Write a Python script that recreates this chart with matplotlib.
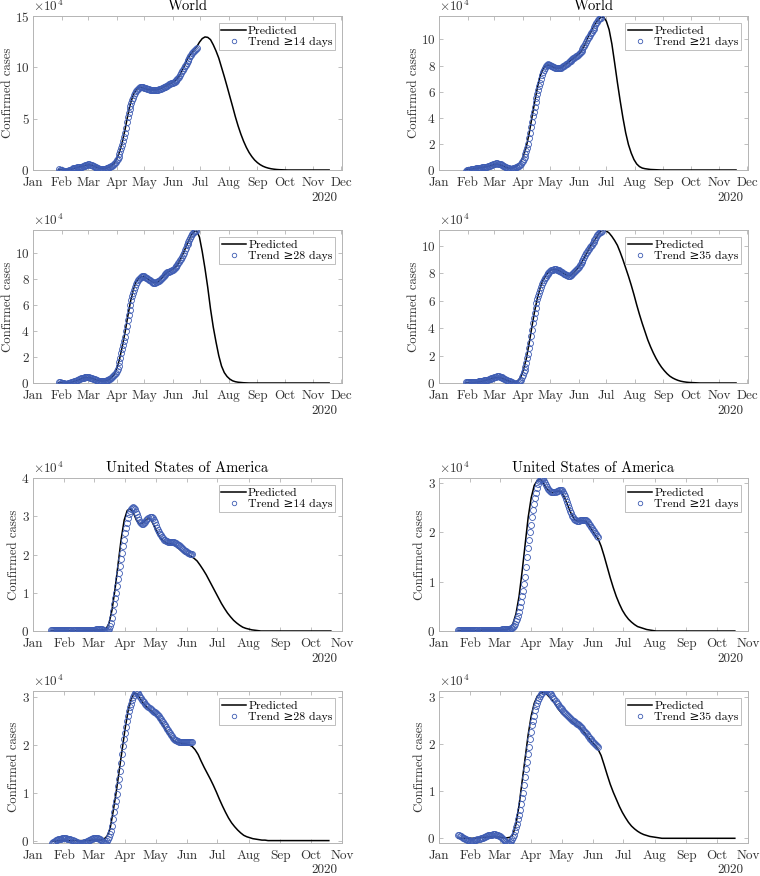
import pandas as pd
import matplotlib
matplotlib.use("Agg")
import matplotlib.pyplot as plt
import matplotlib.dates as mdates

plt.rcParams["font.family"] = ["cmr10", "DejaVu Serif"]
plt.rcParams["mathtext.fontset"] = "cm"
plt.rcParams["axes.formatter.use_mathtext"] = True
plt.rcParams["font.size"] = 9

BLUE = "#3f5db3"
BOX = "#b4b4b4"
TXT = "#333333"

# ---- World, trend >= 14 days (x 10^4 cases), daily from 29 Jan; prediction every 3 days
w14_trend = [
    0.07, 0.04, 0.01, -0.02, -0.05, -0.07, -0.09, -0.10, -0.10, -0.08,
    -0.05, -0.02, 0.00, 0.04, 0.08, 0.12, 0.16, 0.18, 0.21, 0.23,
    0.25, 0.27, 0.28, 0.30, 0.31, 0.33, 0.36, 0.39, 0.42, 0.45,
    0.49, 0.52, 0.55, 0.54, 0.52, 0.50, 0.46, 0.42, 0.37, 0.33,
    0.28, 0.24, 0.20, 0.16, 0.13, 0.10, 0.09, 0.09, 0.09, 0.10,
    0.12, 0.14, 0.16, 0.19, 0.23, 0.26, 0.30, 0.36, 0.42, 0.49,
    0.58, 0.68, 0.80, 0.95, 1.12, 1.30, 1.55, 1.82, 2.10, 2.45,
    2.80, 3.20, 3.60, 4.10, 4.65, 5.20, 5.55, 5.90, 6.20, 6.50,
    6.78, 7.05, 7.30, 7.50, 7.66, 7.80, 7.92, 8.02, 8.08, 8.10,
    8.10, 8.07, 8.04, 8.01, 7.98, 7.95, 7.92, 7.89, 7.86, 7.84,
    7.83, 7.82, 7.81, 7.80, 7.80, 7.80, 7.80, 7.81, 7.82, 7.85,
    7.88, 7.92, 7.96, 8.00, 8.04, 8.08, 8.13, 8.18, 8.23, 8.28,
    8.33, 8.38, 8.43, 8.47, 8.52, 8.57, 8.62, 8.68, 8.76, 8.86,
    8.96, 9.10, 9.26, 9.43, 9.60, 9.77, 9.94, 10.10, 10.27, 10.44,
    10.60, 10.76, 10.92, 11.07, 11.22, 11.36, 11.49, 11.61, 11.73, 11.82,
    11.90,
]
w14_pred = [
    0.05, 0.02, 0.00, 0.02, 0.06, 0.12, 0.20, 0.27, 0.33, 0.40,
    0.47, 0.50, 0.45, 0.35, 0.24, 0.16, 0.13, 0.16, 0.25, 0.40,
    0.65, 1.10, 1.75, 2.70, 3.90, 5.30, 6.50, 7.30, 7.80, 8.05,
    8.05, 7.95, 7.87, 7.82, 7.80, 7.80, 7.85, 7.95, 8.07, 8.20,
    8.35, 8.50, 8.68, 8.92, 9.30, 9.85, 10.45, 11.00, 11.35, 11.70,
    12.00, 12.45, 12.80, 12.96, 12.92, 12.70, 12.20, 11.60, 10.90, 10.00,
    9.10, 8.15, 7.17, 6.20, 5.20, 4.30, 3.50, 2.80, 2.20, 1.70,
    1.30, 0.97, 0.72, 0.52, 0.37, 0.26, 0.18, 0.12, 0.08, 0.05,
    0.03, 0.02, 0.01, 0, 0, 0, 0, 0, 0, 0,
    0, 0, 0, 0, 0, 0, 0, 0, 0,
]

# ---- World, trend >= 21 days, daily from 30 Jan
w21_trend = [
    -0.05, -0.03, -0.02, 0.00, 0.02, 0.03, 0.05, 0.06, 0.08, 0.09,
    0.10, 0.12, 0.13, 0.14, 0.15, 0.16, 0.17, 0.19, 0.20, 0.21,
    0.22, 0.23, 0.25, 0.26, 0.28, 0.30, 0.33, 0.35, 0.38, 0.41,
    0.43, 0.46, 0.48, 0.50, 0.50, 0.49, 0.48, 0.46, 0.43, 0.40,
    0.36, 0.32, 0.28, 0.25, 0.21, 0.17, 0.13, 0.12, 0.11, 0.10,
    0.10, 0.11, 0.12, 0.15, 0.18, 0.21, 0.25, 0.29, 0.33, 0.38,
    0.47, 0.58, 0.70, 0.85, 1.00, 1.22, 1.45, 1.72, 2.00, 2.42,
    2.85, 3.30, 3.70, 4.10, 4.48, 4.85, 5.18, 5.50, 5.80, 6.10,
    6.40, 6.70, 6.98, 7.25, 7.50, 7.67, 7.82, 7.95, 8.03, 8.08,
    8.10, 8.08, 8.05, 8.00, 7.95, 7.90, 7.87, 7.84, 7.82, 7.80,
    7.79, 7.78, 7.78, 7.80, 7.84, 7.89, 7.95, 8.00, 8.05, 8.11,
    8.16, 8.22, 8.28, 8.33, 8.39, 8.44, 8.50, 8.55, 8.60, 8.65,
    8.70, 8.75, 8.81, 8.87, 8.93, 9.03, 9.14, 9.25, 9.39, 9.53,
    9.68, 9.82, 9.95, 10.09, 10.22, 10.35, 10.47, 10.60, 10.72, 10.84,
    10.98, 11.11, 11.25, 11.37, 11.48, 11.55, 11.62, 11.68,
]
w21_pred = [
    0.00, 0.03, 0.07, 0.10, 0.13, 0.16, 0.20, 0.23, 0.27, 0.33,
    0.40, 0.45, 0.43, 0.35, 0.25, 0.17, 0.14, 0.16, 0.25, 0.40,
    0.65, 1.10, 1.80, 2.80, 4.00, 5.20, 6.30, 7.20, 7.75, 8.00,
    8.05, 7.95, 7.85, 7.80, 7.80, 7.90, 8.05, 8.20, 8.38, 8.55,
    8.72, 8.90, 9.15, 9.55, 10.00, 10.45, 10.85, 11.20, 11.50, 11.70,
    11.72, 11.40, 10.75, 9.65, 8.20, 6.70, 5.30, 4.00, 2.85, 1.95,
    1.30, 0.80, 0.46, 0.26, 0.15, 0.10, 0.07, 0.04, 0.03, 0.02,
    0.01, 0, 0, 0, 0, 0, 0, 0, 0, 0,
    0, 0, 0, 0, 0, 0, 0, 0, 0, 0,
    0, 0, 0, 0, 0, 0, 0, 0, 0,
]

# ---- World, trend >= 28 days, daily from 29 Jan
w28_trend = [
    0.05, 0.04, 0.02, 0.01, 0.00, -0.01, -0.03, -0.04, -0.05, -0.04,
    -0.02, 0.00, 0.02, 0.04, 0.06, 0.09, 0.11, 0.13, 0.16, 0.19,
    0.22, 0.25, 0.28, 0.32, 0.35, 0.38, 0.40, 0.42, 0.44, 0.45,
    0.46, 0.46, 0.45, 0.43, 0.41, 0.38, 0.36, 0.33, 0.30, 0.28,
    0.25, 0.22, 0.20, 0.17, 0.15, 0.13, 0.12, 0.12, 0.12, 0.13,
    0.14, 0.16, 0.18, 0.21, 0.24, 0.27, 0.30, 0.36, 0.43, 0.50,
    0.59, 0.69, 0.80, 0.95, 1.10, 1.27, 1.60, 1.95, 2.30, 2.62,
    2.94, 3.25, 3.56, 3.98, 4.40, 4.83, 5.22, 5.60, 6.00, 6.36,
    6.65, 6.92, 7.18, 7.40, 7.58, 7.75, 7.90, 8.02, 8.10, 8.14,
    8.17, 8.19, 8.20, 8.18, 8.14, 8.10, 8.05, 8.00, 7.94, 7.88,
    7.83, 7.78, 7.74, 7.70, 7.68, 7.69, 7.72, 7.75, 7.80, 7.85,
    7.90, 7.98, 8.06, 8.15, 8.23, 8.31, 8.38, 8.45, 8.49, 8.53,
    8.56, 8.60, 8.63, 8.67, 8.70, 8.77, 8.84, 8.92, 9.00, 9.10,
    9.20, 9.30, 9.41, 9.55, 9.70, 9.85, 10.00, 10.18, 10.37, 10.56,
    10.71, 10.86, 11.02, 11.17, 11.32, 11.42, 11.51, 11.59, 11.65, 11.70,
]
w28_pred = [
    0.03, 0.01, 0.00, 0.01, 0.04, 0.09, 0.16, 0.24, 0.32, 0.39,
    0.43, 0.42, 0.36, 0.28, 0.21, 0.16, 0.14, 0.17, 0.25, 0.40,
    0.65, 1.10, 1.80, 2.80, 3.85, 5.10, 6.25, 7.15, 7.75, 8.05,
    8.18, 8.15, 8.03, 7.88, 7.75, 7.70, 7.78, 7.98, 8.22, 8.45,
    8.58, 8.68, 8.85, 9.08, 9.45, 9.90, 10.40, 10.90, 11.35, 11.62,
    11.70, 11.20, 10.10, 8.80, 7.35, 5.70, 4.30, 3.15, 2.10, 1.30,
    0.80, 0.50, 0.30, 0.17, 0.10, 0.06, 0.04, 0.02, 0.01, 0,
    0, 0, 0, 0, 0, 0, 0, 0, 0, 0,
    0, 0, 0, 0, 0, 0, 0, 0, 0, 0,
    0, 0, 0, 0, 0, 0, 0, 0, 0,
]

# ---- World, trend >= 35 days, daily from 30 Jan
w35_trend = [
    0.07, 0.07, 0.06, 0.06, 0.05, 0.05, 0.05, 0.05, 0.05, 0.06,
    0.07, 0.08, 0.09, 0.10, 0.11, 0.12, 0.13, 0.15, 0.16, 0.17,
    0.19, 0.20, 0.22, 0.24, 0.25, 0.27, 0.29, 0.32, 0.34, 0.37,
    0.39, 0.42, 0.44, 0.46, 0.48, 0.49, 0.49, 0.47, 0.45, 0.42,
    0.39, 0.36, 0.32, 0.29, 0.25, 0.22, 0.18, 0.15, 0.11, 0.08,
    0.05, 0.02, 0.00, -0.02, -0.04, -0.05, -0.04, 0.00, 0.05, 0.12,
    0.25, 0.42, 0.60, 0.77, 0.95, 1.20, 1.46, 1.80, 2.15, 2.52,
    2.90, 3.40, 3.88, 4.37, 4.73, 5.10, 5.47, 5.83, 6.10, 6.35,
    6.58, 6.80, 7.00, 7.20, 7.35, 7.50, 7.65, 7.77, 7.88, 7.98,
    8.06, 8.13, 8.18, 8.22, 8.25, 8.27, 8.29, 8.30, 8.29, 8.27,
    8.25, 8.22, 8.19, 8.16, 8.13, 8.08, 8.03, 7.98, 7.93, 7.88,
    7.85, 7.82, 7.82, 7.83, 7.85, 7.89, 7.94, 8.00, 8.07, 8.15,
    8.22, 8.30, 8.40, 8.50, 8.60, 8.71, 8.82, 8.93, 9.05, 9.19,
    9.33, 9.47, 9.58, 9.69, 9.80, 9.90, 10.00, 10.10, 10.20, 10.30,
    10.42, 10.53, 10.65, 10.78, 10.90, 10.95, 11.00, 11.05, 11.10,
]
w35_pred = [
    0.02, 0.02, 0.03, 0.04, 0.06, 0.09, 0.13, 0.18, 0.24, 0.30,
    0.36, 0.40, 0.40, 0.35, 0.27, 0.19, 0.12, 0.08, 0.08, 0.18,
    0.45, 1.00, 1.80, 2.90, 4.10, 5.25, 6.20, 6.95, 7.50, 7.85,
    8.10, 8.25, 8.30, 8.28, 8.20, 8.08, 7.95, 7.85, 7.85, 7.98,
    8.20, 8.48, 8.80, 9.17, 9.55, 9.90, 10.22, 10.52, 10.85, 11.08,
    11.17, 11.10, 10.95, 10.70, 10.40, 10.05, 9.55, 9.00, 8.40, 7.80,
    7.15, 6.45, 5.70, 5.00, 4.35, 3.75, 3.15, 2.65, 2.20, 1.80,
    1.45, 1.15, 0.90, 0.68, 0.50, 0.37, 0.27, 0.19, 0.13, 0.09,
    0.06, 0.04, 0.03, 0.02, 0.01, 0, 0, 0, 0, 0,
    0, 0, 0, 0, 0, 0, 0, 0, 0,
]

# ---- USA, trend >= 14 days, daily from 19 Jan
u14_trend = [
    0.02, 0.02, 0.02, 0.02, 0.02, 0.02, 0.02, 0.02, 0.02, 0.02,
    0.02, 0.02, 0.02, 0.02, 0.02, 0.02, 0.02, 0.02, 0.02, 0.02,
    0.02, 0.02, 0.02, 0.02, 0.02, 0.02, 0.02, 0.02, 0.02, 0.02,
    0.02, 0.02, 0.02, 0.03, 0.03, 0.03, 0.03, 0.03, 0.03, 0.03,
    0.03, 0.03, 0.03, 0.03, 0.04, 0.04, 0.04, 0.05, 0.05, 0.05,
    0.04, 0.03, 0.02, 0.01, 0.00, 0.01, 0.03, 0.06, 0.12, 0.22,
    0.35, 0.52, 0.70, 0.85, 1.00, 1.18, 1.35, 1.52, 1.70, 1.88,
    2.05, 2.22, 2.38, 2.55, 2.70, 2.83, 2.95, 3.05, 3.13, 3.18,
    3.22, 3.23, 3.22, 3.18, 3.12, 3.05, 2.98, 2.91, 2.85, 2.82,
    2.80, 2.80, 2.82, 2.86, 2.90, 2.93, 2.96, 2.97, 2.98, 2.97,
    2.95, 2.91, 2.85, 2.78, 2.70, 2.64, 2.58, 2.54, 2.50, 2.46,
    2.42, 2.39, 2.37, 2.35, 2.34, 2.33, 2.33, 2.33, 2.33, 2.33,
    2.33, 2.32, 2.31, 2.29, 2.28, 2.26, 2.24, 2.21, 2.19, 2.16,
    2.14, 2.12, 2.10, 2.08, 2.06, 2.04, 2.03, 2.02, 2.02, 2.02,
]
u14_pred = [
    0.01, 0.01, 0.01, 0.01, 0.01, 0.01, 0.01, 0.01, 0.01, 0.01,
    0.01, 0.02, 0.02, 0.02, 0.02, 0.03, 0.03, 0.03, 0.05, 0.20,
    0.55, 1.10, 1.75, 2.40, 2.90, 3.15, 3.20, 3.10, 2.90, 2.80,
    2.82, 2.90, 2.95, 2.88, 2.72, 2.55, 2.42, 2.35, 2.30, 2.28,
    2.27, 2.22, 2.15, 2.08, 2.02, 1.98, 1.95, 1.90, 1.83, 1.72,
    1.60, 1.47, 1.32, 1.17, 1.02, 0.87, 0.72, 0.59, 0.47, 0.37,
    0.28, 0.21, 0.15, 0.10, 0.07, 0.05, 0.03, 0.02, 0.01, 0,
    0, 0, 0, 0, 0, 0, 0, 0, 0, 0,
    0, 0, 0, 0, 0, 0, 0, 0, 0, 0,
    0, 0, 0,
]

# ---- USA, trend >= 21 days, daily from 20 Jan
u21_trend = [
    0.02, 0.02, 0.02, 0.02, 0.02, 0.02, 0.02, 0.02, 0.02, 0.02,
    0.02, 0.02, 0.02, 0.02, 0.02, 0.02, 0.02, 0.02, 0.02, 0.02,
    0.02, 0.02, 0.02, 0.03, 0.03, 0.03, 0.03, 0.03, 0.03, 0.03,
    0.03, 0.03, 0.03, 0.03, 0.03, 0.03, 0.03, 0.03, 0.03, 0.03,
    0.03, 0.03, 0.03, 0.04, 0.04, 0.04, 0.04, 0.04, 0.04, 0.05,
    0.05, 0.05, 0.06, 0.07, 0.08, 0.11, 0.15, 0.20, 0.25, 0.31,
    0.38, 0.48, 0.58, 0.70, 0.82, 0.96, 1.10, 1.30, 1.50, 1.68,
    1.85, 2.00, 2.15, 2.30, 2.45, 2.58, 2.70, 2.80, 2.90, 2.97,
    3.03, 3.06, 3.08, 3.08, 3.07, 3.04, 3.00, 2.96, 2.92, 2.88,
    2.85, 2.83, 2.82, 2.81, 2.81, 2.81, 2.82, 2.83, 2.84, 2.85,
    2.86, 2.86, 2.85, 2.82, 2.78, 2.73, 2.68, 2.62, 2.56, 2.50,
    2.44, 2.39, 2.34, 2.30, 2.27, 2.25, 2.24, 2.23, 2.23, 2.23,
    2.24, 2.24, 2.25, 2.25, 2.25, 2.25, 2.24, 2.22, 2.20, 2.17,
    2.14, 2.11, 2.08, 2.05, 2.02, 1.99, 1.96, 1.93, 1.90,
]
u21_pred = [
    0.01, 0.01, 0.01, 0.01, 0.01, 0.01, 0.01, 0.01, 0.02, 0.02,
    0.02, 0.02, 0.02, 0.02, 0.02, 0.03, 0.03, 0.05, 0.15, 0.35,
    0.70, 1.20, 1.75, 2.30, 2.70, 2.95, 3.05, 3.08, 3.00, 2.90,
    2.83, 2.80, 2.82, 2.84, 2.82, 2.70, 2.55, 2.40, 2.28, 2.23,
    2.23, 2.24, 2.22, 2.15, 2.05, 1.95, 1.87, 1.72, 1.52, 1.30,
    1.08, 0.88, 0.70, 0.55, 0.42, 0.32, 0.24, 0.18, 0.13, 0.09,
    0.07, 0.05, 0.03, 0.02, 0.01, 0, 0, 0, 0, 0,
    0, 0, 0, 0, 0, 0, 0, 0, 0, 0,
    0, 0, 0, 0, 0, 0, 0, 0, 0, 0,
    0, 0,
]

# ---- USA, trend >= 28 days, daily from 20 Jan
u28_trend = [
    -0.03, -0.02, -0.01, 0.00, 0.02, 0.03, 0.04, 0.04, 0.05, 0.05,
    0.06, 0.06, 0.06, 0.06, 0.06, 0.05, 0.05, 0.04, 0.04, 0.03,
    0.02, 0.01, 0.00, -0.01, -0.02, -0.03, -0.04, -0.04, -0.04, -0.03,
    -0.03, -0.02, -0.02, -0.01, 0.00, 0.01, 0.02, 0.03, 0.04, 0.05,
    0.06, 0.06, 0.07, 0.07, 0.07, 0.06, 0.05, 0.04, 0.02, 0.00,
    -0.02, -0.03, -0.04, -0.03, 0.00, 0.04, 0.09, 0.14, 0.20, 0.32,
    0.46, 0.60, 0.72, 0.84, 0.98, 1.14, 1.30, 1.46, 1.62, 1.80,
    1.98, 2.12, 2.25, 2.38, 2.50, 2.61, 2.70, 2.79, 2.86, 2.93,
    2.99, 3.04, 3.08, 3.10, 3.09, 3.07, 3.04, 3.00, 2.97, 2.94,
    2.92, 2.89, 2.86, 2.83, 2.80, 2.78, 2.76, 2.74, 2.72, 2.71,
    2.69, 2.68, 2.66, 2.64, 2.62, 2.59, 2.56, 2.53, 2.50, 2.47,
    2.44, 2.41, 2.38, 2.34, 2.31, 2.27, 2.24, 2.21, 2.18, 2.15,
    2.13, 2.11, 2.10, 2.09, 2.08, 2.07, 2.07, 2.06, 2.06, 2.06,
    2.06, 2.06, 2.06, 2.07, 2.07, 2.07, 2.07, 2.07, 2.07,
]
u28_pred = [
    0.00, 0.00, 0.01, 0.01, 0.01, 0.01, 0.01, 0.01, 0.01, 0.01,
    0.01, 0.01, 0.01, 0.02, 0.02, 0.02, 0.02, 0.04, 0.10, 0.25,
    0.60, 1.00, 1.45, 1.90, 2.35, 2.72, 2.95, 3.08, 3.06, 2.96,
    2.86, 2.79, 2.73, 2.68, 2.62, 2.54, 2.45, 2.35, 2.24, 2.15,
    2.08, 2.05, 2.04, 2.03, 2.02, 2.00, 1.97, 1.90, 1.80, 1.66,
    1.53, 1.41, 1.29, 1.16, 1.02, 0.87, 0.73, 0.60, 0.48, 0.38,
    0.30, 0.23, 0.17, 0.12, 0.09, 0.07, 0.05, 0.04, 0.03, 0.02,
    0.02, 0.01, 0.01, 0.01, 0.01, 0.01, 0.01, 0.01, 0.01, 0.01,
    0.01, 0.01, 0.01, 0.01, 0.01, 0.01, 0.01, 0.01, 0.01, 0.01,
    0.01, 0.01,
]

# ---- USA, trend >= 35 days, daily from 20 Jan
u35_trend = [
    0.07, 0.06, 0.05, 0.04, 0.03, 0.01, 0.00, -0.01, -0.02, -0.03,
    -0.04, -0.045, -0.05, -0.05, -0.05, -0.05, -0.04, -0.04, -0.03, -0.02,
    -0.02, -0.01, 0.00, 0.00, 0.01, 0.02, 0.03, 0.04, 0.05, 0.06,
    0.06, 0.07, 0.08, 0.08, 0.09, 0.09, 0.09, 0.08, 0.08, 0.07,
    0.05, 0.04, 0.02, 0.01, -0.01, -0.03, -0.05, -0.07, -0.09, -0.10,
    -0.10, -0.08, -0.05, -0.01, 0.03, 0.08, 0.15, 0.23, 0.31, 0.40,
    0.50, 0.60, 0.72, 0.85, 0.97, 1.13, 1.30, 1.47, 1.63, 1.80,
    1.95, 2.10, 2.25, 2.40, 2.50, 2.60, 2.72, 2.81, 2.87, 2.93,
    2.98, 3.02, 3.06, 3.09, 3.12, 3.14, 3.15, 3.15, 3.15, 3.13,
    3.11, 3.09, 3.06, 3.03, 2.99, 2.96, 2.92, 2.88, 2.85, 2.82,
    2.79, 2.76, 2.74, 2.71, 2.69, 2.67, 2.65, 2.62, 2.60, 2.58,
    2.56, 2.54, 2.52, 2.50, 2.49, 2.47, 2.45, 2.43, 2.42, 2.40,
    2.38, 2.36, 2.34, 2.31, 2.29, 2.26, 2.23, 2.21, 2.18, 2.15,
    2.12, 2.10, 2.07, 2.05, 2.03, 2.01, 1.99, 1.97, 1.95,
]
u35_pred = [
    0.00, 0.00, 0.00, 0.00, 0.00, 0.00, 0.01, 0.01, 0.02, 0.02,
    0.03, 0.03, 0.03, 0.03, 0.02, 0.01, 0.01, 0.02, 0.08, 0.30,
    0.70, 1.20, 1.70, 2.20, 2.60, 2.87, 3.02, 3.08, 3.10, 3.07,
    3.00, 2.93, 2.84, 2.74, 2.66, 2.60, 2.55, 2.50, 2.44, 2.39,
    2.35, 2.28, 2.20, 2.12, 2.05, 1.97, 1.89, 1.76, 1.56, 1.35,
    1.15, 0.98, 0.83, 0.68, 0.55, 0.44, 0.34, 0.26, 0.20, 0.15,
    0.11, 0.08, 0.06, 0.04, 0.03, 0.02, 0.01, 0, 0, 0,
    0, 0, 0, 0, 0, 0, 0, 0, 0, 0,
    0, 0, 0, 0, 0, 0, 0, 0, 0, 0,
    0, 0,
]

panels = [
    # title, trend window, start date, trend, prediction, y ticks, y limits, x end
    ("World", 14, "2020-01-29", w14_trend, w14_pred, [0, 5, 10, 15], (0, 15), "2020-12-02"),
    ("World", 21, "2020-01-30", w21_trend, w21_pred, [0, 2, 4, 6, 8, 10], (0, 11.8), "2020-12-02"),
    (None, 28, "2020-01-29", w28_trend, w28_pred, [0, 2, 4, 6, 8, 10], (0, 11.75), "2020-12-02"),
    (None, 35, "2020-01-30", w35_trend, w35_pred, [0, 2, 4, 6, 8, 10], (0, 11.17), "2020-12-02"),
    ("United States of America", 14, "2020-01-19", u14_trend, u14_pred, [0, 1, 2, 3, 4], (0, 4), "2020-11-01"),
    ("United States of America", 21, "2020-01-20", u21_trend, u21_pred, [0, 1, 2, 3], (0, 3.1), "2020-11-01"),
    (None, 28, "2020-01-20", u28_trend, u28_pred, [0, 1, 2, 3], (-0.04, 3.12), "2020-11-01"),
    (None, 35, "2020-01-20", u35_trend, u35_pred, [0, 1, 2, 3], (-0.1, 3.13), "2020-11-01"),
]

# axes boxes in pixels (left, top, right, bottom) of a 760 x 876 figure
cols = [(33, 342), (439, 748)]
rows = [(16, 170), (230, 383), (478, 631), (691, 843)]

fig = plt.figure(figsize=(7.6, 8.76), dpi=100)

for i, (title, window, start, trend, pred, yticks, ylim, xend) in enumerate(panels):
    x0, x1 = cols[i % 2]
    y0, y1 = rows[i // 2]
    ax = fig.add_axes([x0 / 760, 1 - y1 / 876, (x1 - x0) / 760, (y1 - y0) / 876])

    t_dates = pd.date_range(start, periods=len(trend), freq="D")
    p_dates = pd.date_range(start, periods=len(pred), freq="3D")

    ax.plot(p_dates, pred, color="black", lw=1.1, label="Predicted", zorder=2)
    ax.plot(t_dates, trend, ls="none", marker="o", ms=4.3, mfc="none", mec=BLUE,
            mew=0.6, label="Trend \u2265%d days" % window, zorder=3)

    ax.set_xlim(pd.Timestamp("2020-01-01"), pd.Timestamp(xend))
    ax.set_ylim(*ylim)
    ax.set_yticks(yticks)
    ax.xaxis.set_major_locator(mdates.MonthLocator())
    ax.xaxis.set_major_formatter(mdates.DateFormatter("%b"))

    for s in ax.spines.values():
        s.set_color(BOX)
        s.set_linewidth(0.7)
    ax.tick_params(direction="in", top=True, right=True, length=3, width=0.6,
                   color=BOX, labelcolor=TXT, labelsize=9.5)
    ax.tick_params(axis="x", pad=5)
    ax.tick_params(axis="y", pad=2.5)

    ax.set_ylabel("Confirmed cases", color=TXT, fontsize=9.2, labelpad=1)
    if title:
        ax.set_title(title, fontsize=10.5, color="black", pad=4)
    ax.text(0.0, 1.01, r"$\times10^4$", transform=ax.transAxes, ha="left", va="bottom",
            fontsize=9.5, color=TXT)
    ax.text(0.985, -0.18, "2020", transform=ax.transAxes, ha="right", va="center",
            fontsize=9.5, color=TXT)

    leg = ax.legend(loc="upper right", fontsize=8.5, frameon=True, fancybox=False,
                    edgecolor=BOX, framealpha=1, borderaxespad=0.6, borderpad=0.2,
                    handlelength=2.1, handletextpad=0.15, labelspacing=0.1,
                    numpoints=1, markerscale=0.75)
    leg.get_frame().set_linewidth(0.6)

fig.savefig("out.png", dpi=100)
